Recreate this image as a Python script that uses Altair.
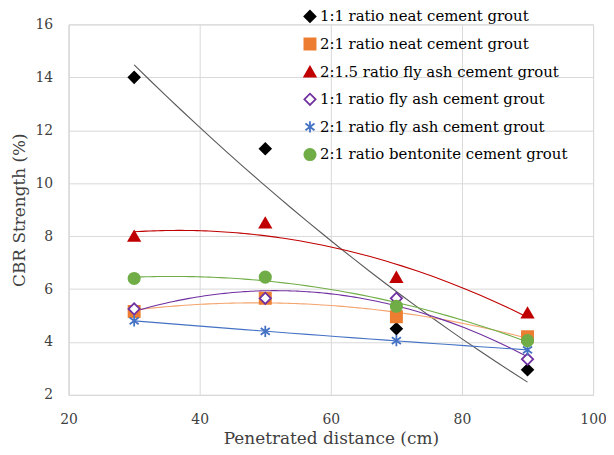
import altair as alt
import pandas as pd

distance = [30, 50, 70, 90]
series_names = [
    "1:1 ratio neat cement grout",
    "2:1 ratio neat cement grout",
    "2:1.5 ratio fly ash cement grout",
    "1:1 ratio fly ash cement grout",
    "2:1 ratio fly ash cement grout",
    "2:1 ratio bentonite cement grout",
]
neat_1_1 = [14.0, 11.3, 4.5, 2.95]
neat_2_1 = [5.15, 5.65, 4.95, 4.2]
flyash_2_15 = [8.0, 8.5, 6.45, 5.1]
flyash_1_1 = [5.25, 5.65, 5.65, 3.35]
flyash_2_1 = [4.8, 4.4, 4.05, 3.7]
bentonite_2_1 = [6.4, 6.45, 5.35, 4.05]

series_values = [neat_1_1, neat_2_1, flyash_2_15, flyash_1_1, flyash_2_1, bentonite_2_1]
marker_colors = ["#000000", "#ED7D31", "#C00000", "#7030A0", "#4472C4", "#70AD47"]
fill_colors = ["#000000", "#ED7D31", "#C00000", "#FFFFFF", "transparent", "#70AD47"]
line_colors = ["#595959", "#F4A46E", "#C00000", "#7030A0", "#4472C4", "#70AD47"]
asterisk = "M0,-1L0,1M-0.8,-0.6L0.8,0.6M-0.8,0.6L0.8,-0.6"
shapes = ["diamond", "square", "triangle-up", "diamond", asterisk, "circle"]
sizes = [125, 130, 150, 75, 110, 150]

rows = []
for name, vals in zip(series_names, series_values):
    for d, v in zip(distance, vals):
        rows.append({"series": name, "distance": d, "cbr": v})
df = pd.DataFrame(rows)
legend_df = pd.DataFrame({"series": series_names, "rank": list(range(len(series_names)))})

FONT = "DejaVu Serif"
xscale = alt.Scale(domain=[20, 100], nice=False)
yscale = alt.Scale(domain=[2, 16], nice=False)

x_enc = alt.X("distance:Q", scale=xscale,
              axis=alt.Axis(title="Penetrated distance (cm)", values=[20, 40, 60, 80, 100]))
y_enc = alt.Y("cbr:Q", scale=yscale,
              axis=alt.Axis(title="CBR Strength (%)", values=[2, 4, 6, 8, 10, 12, 14, 16]))

stroke_enc = alt.Stroke("series:N", scale=alt.Scale(domain=series_names, range=marker_colors), legend=None)
fill_enc = alt.Fill("series:N", scale=alt.Scale(domain=series_names, range=fill_colors), legend=None)
shape_enc = alt.Shape("series:N", scale=alt.Scale(domain=series_names, range=shapes), legend=None)
size_enc = alt.Size("series:N", scale=alt.Scale(domain=series_names, range=sizes), legend=None)

base = alt.Chart(df)

trend = base.transform_regression(
    "distance", "cbr", groupby=["series"], method="poly", order=2, extent=[30, 90]
).mark_line(strokeWidth=1.1).encode(
    x=x_enc, y=y_enc,
    color=alt.Color("series:N", scale=alt.Scale(domain=series_names, range=line_colors), legend=None),
)

points = base.mark_point(strokeWidth=1.8, opacity=1).encode(
    x=x_enc, y=y_enc,
    stroke=stroke_enc, fill=fill_enc, shape=shape_enc, size=size_enc,
)

main = alt.layer(trend, points)

leg_y = alt.Y("rank:Q", scale=alt.Scale(domain=[0, 5], range=[-8, 131]), axis=None)
leg_symbols = alt.Chart(legend_df).mark_point(strokeWidth=1.8, opacity=1).encode(
    x=alt.value(243), y=leg_y,
    stroke=stroke_enc, fill=fill_enc, shape=shape_enc, size=size_enc,
)
leg_labels = alt.Chart(legend_df).mark_text(
    align="left", baseline="middle", font=FONT, fontSize=15, color="#000000"
).encode(
    x=alt.value(253), y=leg_y, text="series:N",
)
legend_layer = alt.layer(leg_symbols, leg_labels)

chart = alt.layer(main, legend_layer).resolve_scale(y="independent").properties(
    width=528, height=373,
    autosize="none",
    padding={"left": 61, "top": 15, "right": 13, "bottom": 59},
).configure_view(
    stroke="#D9D9D9", strokeWidth=1
).configure_axis(
    grid=True, gridColor="#D9D9D9", gridWidth=1,
    domain=True, domainColor="#D9D9D9",
    ticks=False, labelFlush=False,
    labelFont=FONT, labelFontSize=14, labelColor="#404040",
    titleFont=FONT, titleFontSize=17, titleColor="#404040", titleFontWeight="normal",
).configure_axisX(
    labelPadding=18, titlePadding=4,
).configure_axisY(
    labelPadding=16, titlePadding=7,
)

chart.save("out.html", embed_options={"renderer": "svg", "actions": False})
